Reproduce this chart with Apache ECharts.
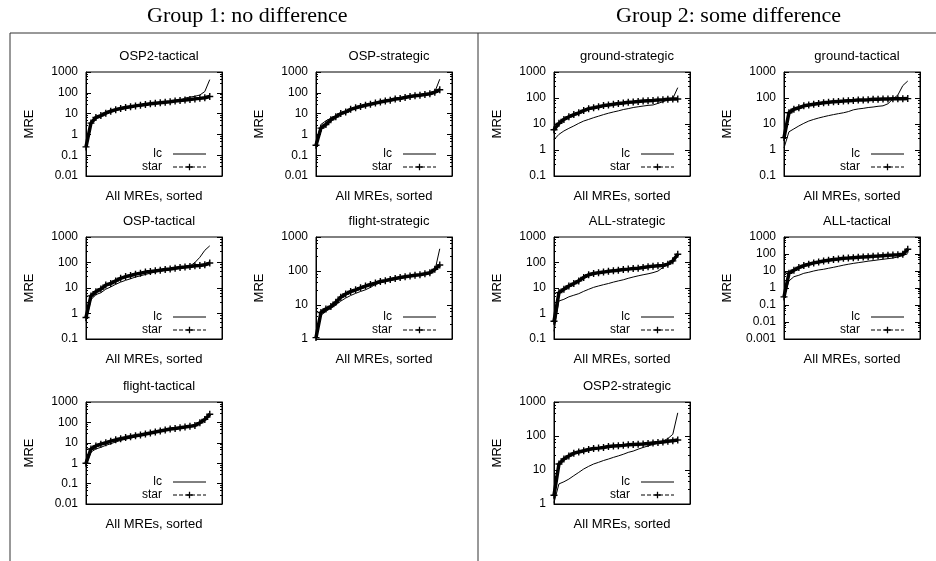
<!DOCTYPE html>
<html>
<head>
<meta charset="utf-8">
<script src="https://cdn.jsdelivr.net/npm/echarts@6/dist/echarts.min.js"></script>
<style>
  html,body{margin:0;padding:0;background:#fff;}
  #main{width:936px;height:561px;}
</style>
</head>
<body>
<div id="main"></div>
<script>
// 数据：每张小图两条曲线（lc / star），排序后的 MRE
var lcOSP2Tactical   = [0.3, 3, 6, 7.5, 10, 12.5, 15, 17, 19, 21, 23, 25, 27, 29, 31, 33, 35, 37, 39.5, 43, 56, 62, 68, 78, 115, 430];
var starOSP2Tactical = [0.25, 3.5, 6.5, 8, 10.5, 13, 15.5, 17.5, 19.5, 21.5, 23.5, 25.5, 27.5, 29.5, 31.5, 33.5, 35.5, 37.5, 40, 42.5, 45, 48, 51, 54, 58, 66];

var lcOSPStrategic   = [0.4, 3, 4.5, 6, 7.5, 9.5, 12, 15.5, 18.5, 21.5, 24.5, 27.5, 31, 35, 39, 43, 48, 52, 58, 65, 70, 75, 81, 88, 110, 450];
var starOSPStrategic = [0.3, 2, 3, 5, 7, 10, 12, 16, 19, 22, 25, 28, 32, 36, 40, 44, 50, 53, 60, 67, 72, 77, 83, 90, 107, 140];

var lcOSPTactical    = [0.5, 3.5, 5.5, 6.5, 9, 11, 14, 17, 20, 23, 27, 30, 34, 38, 42, 46, 50, 54, 58, 62, 66, 72, 100, 160, 300, 450];
var starOSPTactical  = [0.7, 4.9, 7.2, 9.1, 13, 15, 19, 24, 28, 31, 35, 38, 42, 44, 47, 50, 53, 56, 60, 64, 66, 70, 74, 76, 81, 95];

var lcFlightStrategic   = [1.3, 5, 6.5, 8, 10, 13, 16, 19, 22, 25, 28, 33, 40, 45, 50, 54, 58, 62, 66, 70, 73, 76, 80, 85, 100, 450];
var starFlightStrategic = [1.1, 6, 7.6, 9, 12, 17, 21, 25, 28, 32, 36, 40, 44, 49, 52, 56, 60, 64, 68, 71, 75, 78, 83, 89, 112, 150];

var lcFlightTactical   = [0.8, 3.5, 5, 6, 7.5, 9, 11, 13, 15, 17, 19.5, 22, 25, 28.5, 32, 37, 41, 46, 50, 55, 59, 64, 71, 95, 135, 200];
var starFlightTactical = [1, 5, 7, 8.6, 10, 12, 14, 16, 18, 20, 22, 24, 27, 30, 34, 38, 42, 47, 50, 55, 59, 64, 71, 96, 140, 250];

var lcGroundStrategic   = [2.5, 4, 5.4, 6.8, 8.4, 10.6, 13, 15, 17.5, 20, 23, 26, 29, 32, 36, 39, 43, 46, 49, 52, 54, 62, 72, 86, 95, 250];
var starGroundStrategic = [6, 10.6, 15, 19, 23, 27, 33, 39, 42, 46, 51, 54, 57, 61, 64, 68, 70, 74, 77, 79, 81, 84, 86, 89, 91, 92];

var lcGroundTactical   = [1.2, 5, 6.5, 8.4, 10.6, 13, 15, 17, 19, 21, 23, 25, 27, 30, 35, 38, 40, 43, 45, 48, 50, 60, 92, 130, 300, 450];
var starGroundTactical = [3, 27, 37, 42, 50, 54, 58, 62, 66, 68, 72, 74, 76, 79, 81, 84, 84, 86, 89, 89, 91, 91, 93, 93, 93, 95];

var lcALLStrategic   = [0.2, 3.1, 3.6, 4.5, 5.2, 6, 7.4, 8.9, 10.6, 12, 13.5, 15, 17, 19, 21, 24, 27, 30, 33, 36, 40, 46, 64, 86, 116, 180];
var starALLStrategic = [0.5, 6.6, 9, 12, 15, 19, 26, 33, 37, 40, 42, 45, 47, 50, 53, 55, 58, 60, 64, 68, 72, 74, 76, 86, 116, 210];

var lcALLTactical   = [0.3, 2.6, 4.6, 5.6, 7.3, 8.4, 10, 11.5, 12.6, 14.5, 16.5, 19, 22, 25, 28, 31, 34, 38, 41, 45, 49, 53, 58, 67, 80, 105];
var starALLTactical = [0.3, 7.3, 11, 16, 21, 25, 30, 34, 39, 43, 47, 51, 56, 58, 61, 64, 67, 70, 73, 76, 80, 84, 87, 91, 96, 190];

var lcOSP2Strategic   = [1.1, 3.9, 4.5, 5.4, 6.8, 8.5, 10.7, 12.8, 15, 16.8, 19, 21, 23.5, 26, 29, 33, 36, 41, 46, 51, 56, 62, 71, 84, 112, 480];
var starOSP2Strategic = [1.8, 15, 21, 26, 31, 34, 37, 40, 43, 44, 46, 49, 51, 52, 53, 55, 56, 57, 58, 60, 62, 64, 67, 70, 73, 76];

// 小图标题与 y 轴下限
var panelNames = ['OSP2-tactical', 'OSP-strategic', 'OSP-tactical', 'flight-strategic', 'flight-tactical',
                  'ground-strategic', 'ground-tactical', 'ALL-strategic', 'ALL-tactical', 'OSP2-strategic'];
var panelYMin  = [0.01, 0.01, 0.1, 1, 0.01, 0.1, 0.1, 0.1, 0.001, 1];
var panelLc    = [lcOSP2Tactical, lcOSPStrategic, lcOSPTactical, lcFlightStrategic, lcFlightTactical,
                  lcGroundStrategic, lcGroundTactical, lcALLStrategic, lcALLTactical, lcOSP2Strategic];
var panelStar  = [starOSP2Tactical, starOSPStrategic, starOSPTactical, starFlightStrategic, starFlightTactical,
                  starGroundStrategic, starGroundTactical, starALLStrategic, starALLTactical, starOSP2Strategic];
var yMax = 1000;
var groupTitles = ['Group 1: no difference', 'Group 2: some difference'];

(function () {
  var myChart = echarts.init(document.getElementById('main'));
  var font = "'Liberation Sans', Arial, sans-serif";
  var serif = "22px 'Liberation Serif', 'Times New Roman', serif";
  var crossPath = 'path://M4,0H6V4H10V6H6V10H4V6H0V4H4Z';

  // 版面：列左边、行上边
  var colLeft = [86, 316, 554, 784];
  var rowTop = [72, 237, 402];
  var rowH = [104, 102, 102];
  var place = [[0, 0], [1, 0], [0, 1], [1, 1], [0, 2], [2, 0], [3, 0], [2, 1], [3, 1], [2, 2]];
  var boxW = 136;

  var grid = [], xAxis = [], yAxis = [], series = [], title = [], legend = [];

  function toPairs(arr) {
    return arr.map(function (v, i) { return [i, v]; });
  }

  panelNames.forEach(function (name, k) {
    var left = colLeft[place[k][0]];
    var top = rowTop[place[k][1]];
    var h = rowH[place[k][1]];
    var n = panelLc[k].length;

    grid.push({
      left: left, top: top, width: boxW, height: h,
      show: true, borderColor: '#000', borderWidth: 1, backgroundColor: 'transparent'
    });

    xAxis.push({
      gridIndex: k, type: 'value', min: 0, max: (n - 1) / 0.91,
      axisLine: {show: true, lineStyle: {color: '#000'}},
      axisTick: {show: false}, axisLabel: {show: false}, splitLine: {show: false},
      name: 'All MREs, sorted', nameLocation: 'middle', nameGap: 14,
      nameTextStyle: {color: '#000', fontSize: 13, fontFamily: font}
    });

    var yCommon = {
      gridIndex: k, type: 'log', logBase: 10, min: panelYMin[k], max: yMax, splitNumber: 8,
      axisLine: {show: true, lineStyle: {color: '#000'}},
      axisTick: {show: true, inside: true, length: 5, lineStyle: {color: '#000'}},
      minorTick: {show: true, splitNumber: 5, length: 2, lineStyle: {color: '#000'}},
      splitLine: {show: false}, minorSplitLine: {show: false}
    };
    yAxis.push(Object.assign({}, yCommon, {
      position: 'left',
      axisLabel: {
        color: '#000', fontSize: 12, fontFamily: font, margin: 8,
        formatter: function (v) { return String(+Number(v).toPrecision(6)); }
      },
      name: 'MRE', nameLocation: 'middle', nameGap: 50, nameRotate: 90,
      nameTextStyle: {color: '#000', fontSize: 13, fontFamily: font}
    }));
    yAxis.push(Object.assign({}, yCommon, {
      position: 'right', axisLabel: {show: false}
    }));

    series.push({
      name: 'lc', type: 'line', xAxisIndex: k, yAxisIndex: 2 * k,
      data: toPairs(panelLc[k]), symbol: 'none', z: 3,
      lineStyle: {color: '#000', width: 1}, itemStyle: {color: '#000'}
    });
    series.push({
      name: 'star', type: 'line', xAxisIndex: k, yAxisIndex: 2 * k,
      data: toPairs(panelStar[k]), symbol: crossPath, symbolSize: 7, showSymbol: true, z: 2,
      lineStyle: {color: '#000', width: 3.5}, itemStyle: {color: '#000'}
    });

    title.push({
      text: name, left: left + boxW / 2, top: top - 27, textAlign: 'center',
      textStyle: {color: '#000', fontSize: 13, fontWeight: 'normal', fontFamily: font}
    });

    legend.push({
      orient: 'vertical', align: 'right', left: left + 48, top: top + h - 28,
      padding: 0, itemGap: 1, itemWidth: 33, itemHeight: 8,
      selectedMode: false,
      formatter: '{a|{name}}',
      textStyle: {
        color: '#000', fontSize: 12, fontFamily: font,
        rich: {a: {width: 28, align: 'right', padding: [0, 6, 0, 0], lineHeight: 13, fontSize: 12, fontFamily: font, color: '#000'}}
      },
      data: [
        {name: 'lc', itemStyle: {opacity: 0}, lineStyle: {width: 1, color: '#000'}},
        {name: 'star', lineStyle: {type: 'dashed', width: 1, color: '#000'}}
      ]
    });
  });

  // 组标题与分隔线
  var graphic = [
    {type: 'text', left: 147, top: 5, style: {text: groupTitles[0], fill: '#000', font: serif}},
    {type: 'text', left: 616, top: 5, style: {text: groupTitles[1], fill: '#000', font: serif}},
    {type: 'line', shape: {x1: 10, y1: 33, x2: 936, y2: 33}, style: {stroke: '#333', lineWidth: 1}},
    {type: 'line', shape: {x1: 10, y1: 33, x2: 10, y2: 561}, style: {stroke: '#333', lineWidth: 1}},
    {type: 'line', shape: {x1: 478, y1: 33, x2: 478, y2: 561}, style: {stroke: '#333', lineWidth: 1}}
  ];

  var option = {
    animation: false,
    backgroundColor: '#fff',
    title: title,
    legend: legend,
    grid: grid,
    xAxis: xAxis,
    yAxis: yAxis,
    series: series,
    graphic: graphic
  };
  myChart.setOption(option);
  window.addEventListener('resize', function () {
    myChart.resize();
  });
})();
</script>
</body>
</html>
